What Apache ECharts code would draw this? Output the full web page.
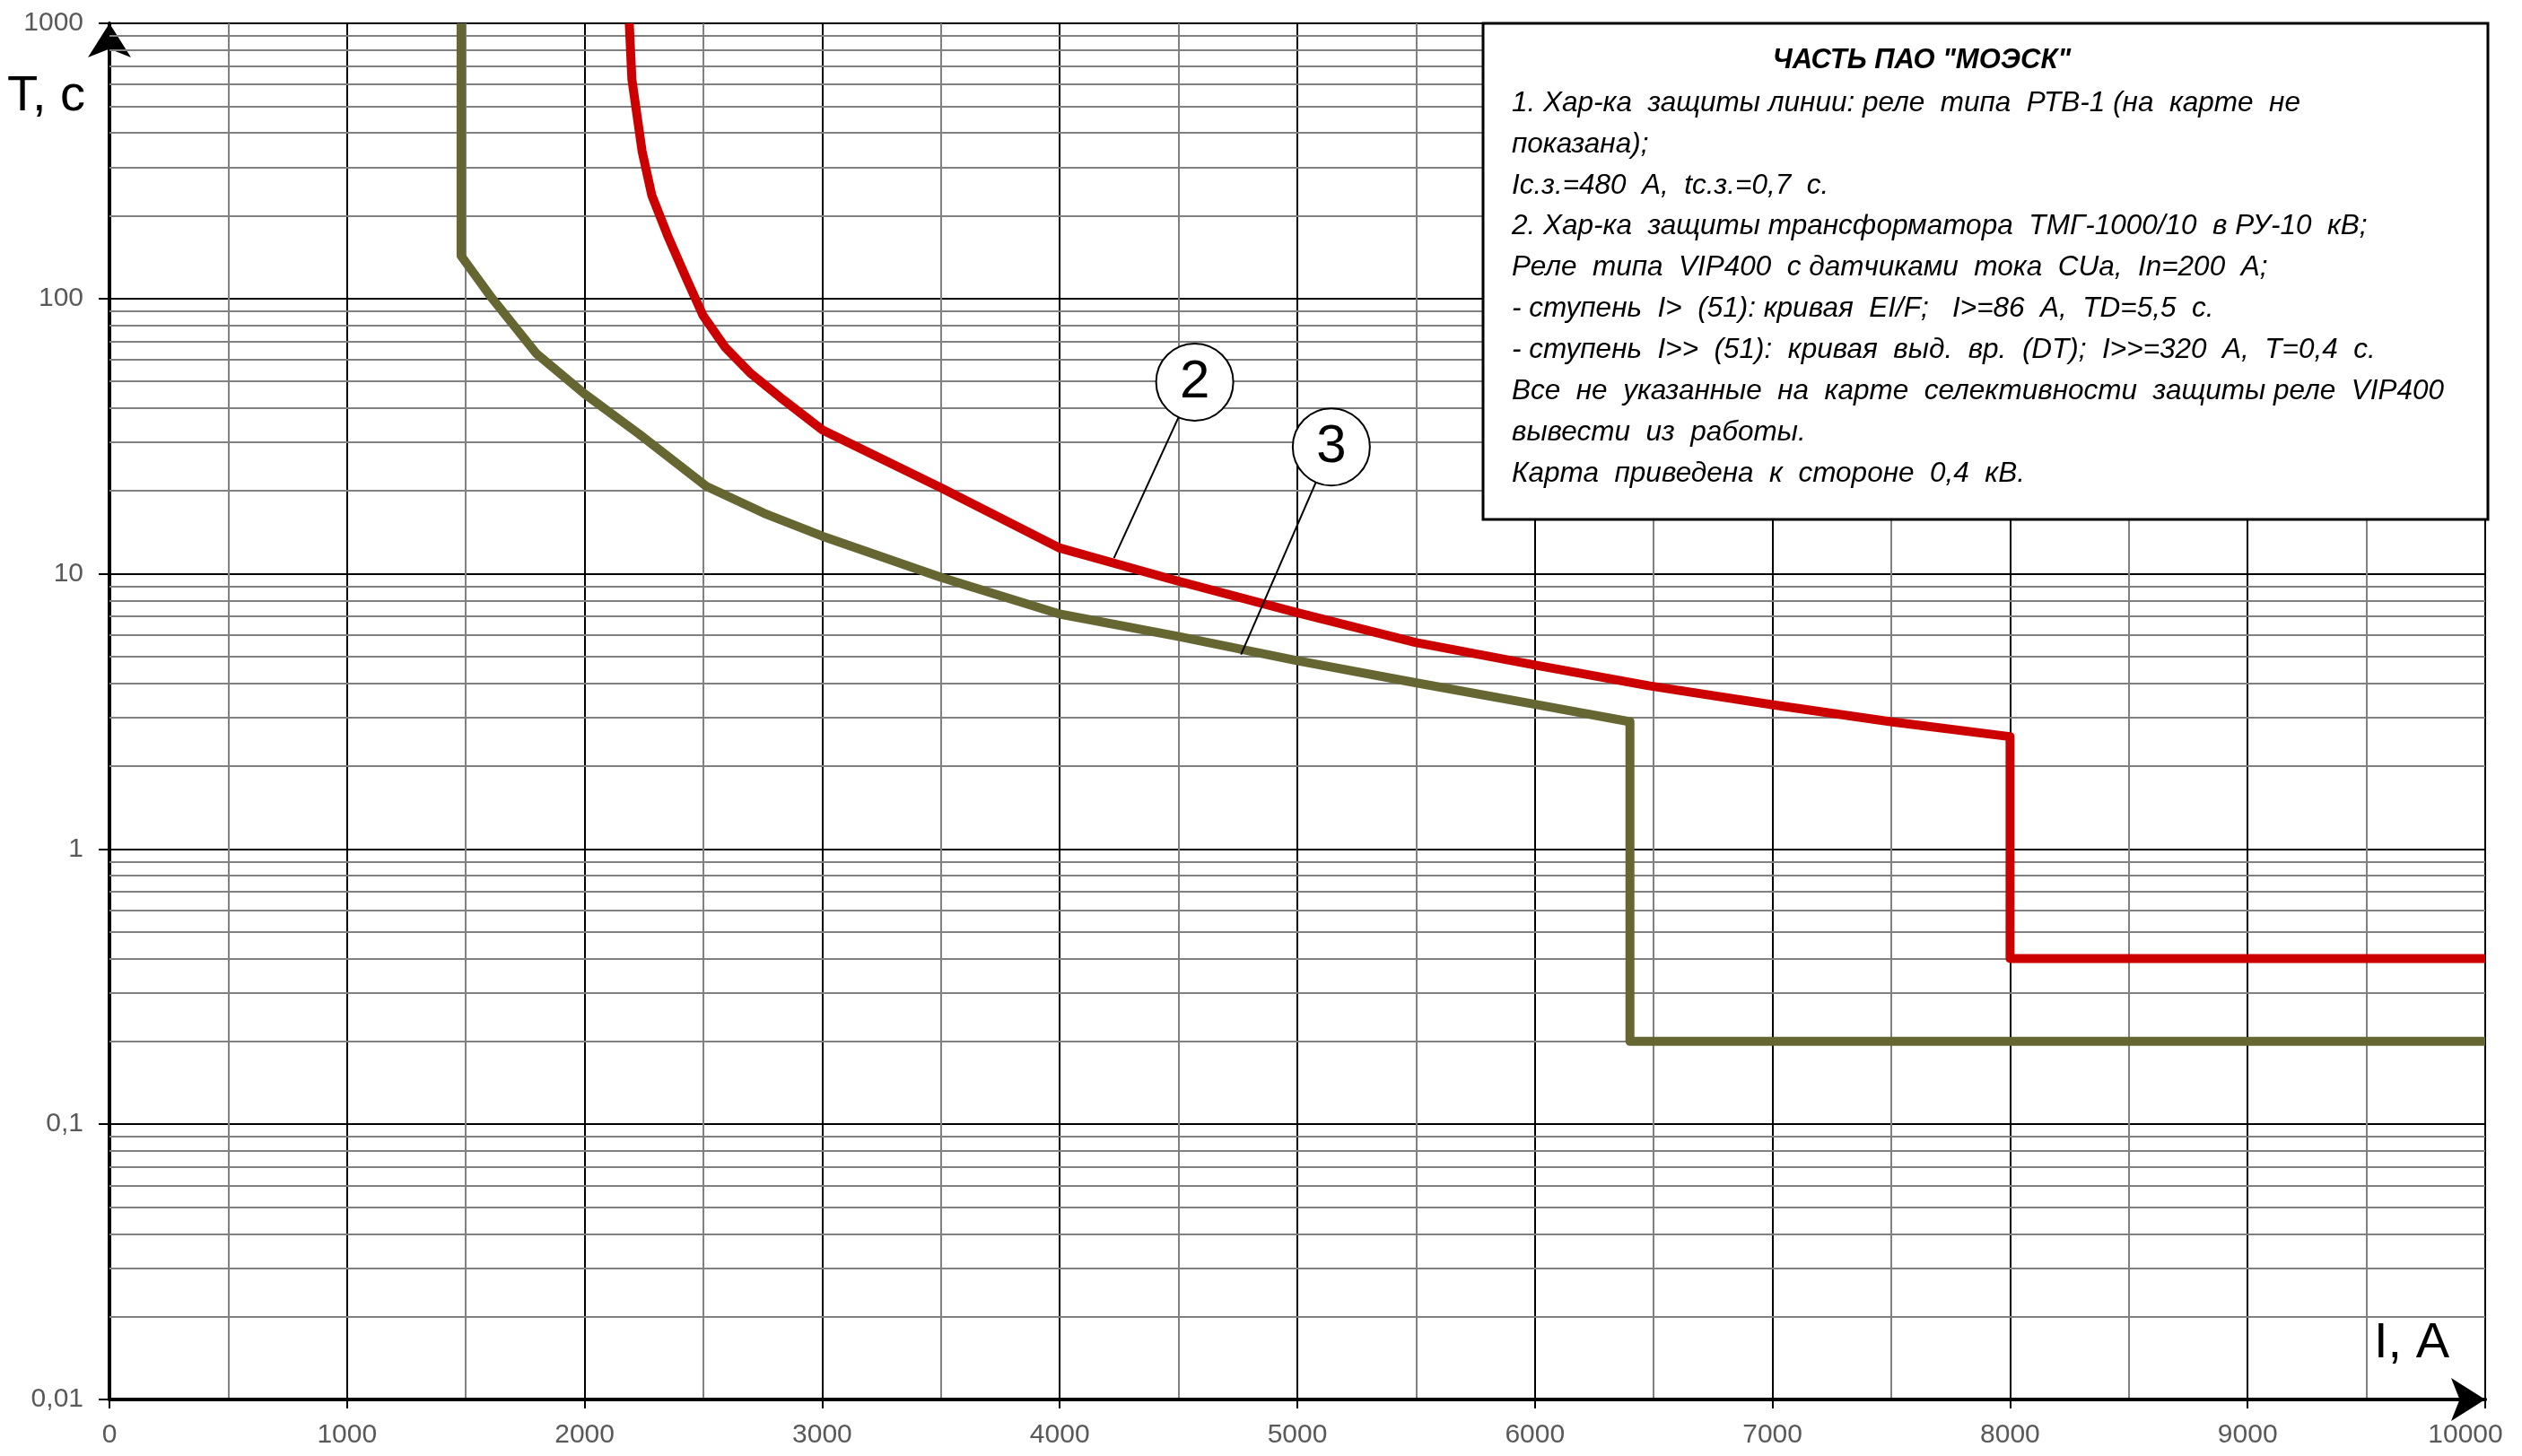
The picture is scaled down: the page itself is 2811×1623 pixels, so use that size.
<!DOCTYPE html>
<html>
<head>
<meta charset="utf-8">
<script src="https://cdn.jsdelivr.net/npm/echarts@6/dist/echarts.min.js"></script>
<style>
html,body{margin:0;padding:0;background:#fff;}
#chart{width:2811px;height:1623px;}
</style>
</head>
<body>
<div id="chart"></div>
<script>
// ---------- data ----------
// curve 2 (red): transformer protection on 10 kV, referred to 0.4 kV
const redI = [2188, 2199, 2242, 2283, 2350, 2431, 2499, 2593, 2701, 2836, 3001, 3502, 4000, 4498, 4998, 5497, 6006, 6479, 7004, 7498, 8000, 8000, 10000];
const redT = [1000, 626, 343, 237, 169, 117, 86.6, 66.3, 53.3, 42.9, 33.3, 20.5, 12.4, 9.41, 7.23, 5.63, 4.65, 3.92, 3.34, 2.90, 2.56, 0.4, 0.4];
// curve 3 (olive)
const greenI = [1480, 1480, 1608, 1797, 1999, 2229, 2512, 2755, 3001, 3502, 4000, 4498, 4998, 5497, 6006, 6400, 6400, 10000];
const greenT = [1000, 143, 100.8, 63.1, 45.1, 32.2, 20.8, 16.6, 13.7, 9.7, 7.14, 5.92, 4.84, 4.02, 3.35, 2.90, 0.2, 0.2];
// callouts
const calloutNames = ['2', '3'];
const calloutCenters = [[4568, 49.7], [5143, 28.9]];
const calloutTargets = [[4228, 11.4], [4763, 5.09]];
// axes
const xMin = 0, xMax = 10000, xStep = 1000;
const yMin = 0.01, yMax = 1000;
const yAxisName = 'T, c';
const xAxisName = 'I, A';
// note box
const noteTitle = 'ЧАСТЬ ПАО "МОЭСК"';
const noteLines = [
  '1. Хар-ка  защиты линии: реле  типа  РТВ-1 (на  карте  не',
  'показана);',
  'Iс.з.=480  А,  tс.з.=0,7  с.',
  '2. Хар-ка  защиты трансформатора  ТМГ-1000/10  в РУ-10  кВ;',
  'Реле  типа  VIP400  с датчиками  тока  CUa,  In=200  А;',
  '- ступень  I>  (51): кривая  EI/F;   I>=86  А,  TD=5,5  с.',
  '- ступень  I>>  (51):  кривая  выд.  вр.  (DT);  I>>=320  А,  T=0,4  с.',
  'Все  не  указанные  на  карте  селективности  защиты реле  VIP400',
  'вывести  из  работы.',
  'Карта  приведена  к  стороне  0,4  кВ.'
];

// minor log grid values (2..9 within each decade)
const yMinor = [];
for (let d = 0.01; d < 999; d *= 10) {
  for (let m = 2; m <= 9; m++) yMinor.push(+(m * d).toPrecision(3));
}

const zip = (a, b) => a.map((v, i) => [v, b[i]]);

const labelFont = "'Liberation Sans', Arial, sans-serif";
const noteFont = "'Liberation Sans', 'DejaVu Sans', sans-serif";

const chart = echarts.init(document.getElementById('chart'), null, {renderer: 'canvas'});

const G = {left: 122, right: 41, top: 26, bottom: 63, outerBoundsMode: 'none', containLabel: false};

const graphics = [];
// axis names
graphics.push({type: 'text', style: {x: 8, y: 108, text: yAxisName, fontSize: 56, fontFamily: labelFont, fill: '#000', align: 'left', verticalAlign: 'middle'}, z: 10});
graphics.push({type: 'text', style: {x: 2646, y: 1498, text: xAxisName, fontSize: 56, fontFamily: labelFont, fill: '#000', align: 'left', verticalAlign: 'middle'}, z: 10});
// note box
graphics.push({type: 'rect', shape: {x: 1653, y: 26, width: 1120, height: 553}, style: {fill: '#fff', stroke: '#000', lineWidth: 3}, z: 20});
graphics.push({type: 'text', style: {x: 2142, y: 67, text: noteTitle, fontSize: 31, fontWeight: 'bold', fontStyle: 'italic', fontFamily: noteFont, fill: '#000', align: 'center', verticalAlign: 'middle'}, z: 21});
noteLines.forEach((t, i) => {
  graphics.push({type: 'text', style: {x: 1685, y: 115 + i * 45.9, text: t, fontSize: 31.5, fontStyle: 'italic', fontFamily: noteFont, fill: '#000', align: 'left', verticalAlign: 'middle'}, z: 21});
});

const option = {
  animation: false,
  backgroundColor: '#fff',
  grid: G,
  xAxis: {
    type: 'value', min: xMin, max: xMax, interval: xStep,
    axisLine: {show: true, onZero: false, symbol: ['none', 'arrow'], symbolSize: [36, 38], lineStyle: {color: '#000', width: 4}},
    axisTick: {show: true, length: 10, lineStyle: {color: '#000', width: 2}},
    axisLabel: {
      color: '#595959', fontSize: 30, fontFamily: labelFont, margin: 25,
      formatter: v => (v === xMax ? '{last|' + v + '}' : String(v)),
      rich: {last: {color: '#595959', fontSize: 30, fontFamily: labelFont, padding: [0, 44, 0, 0]}}
    },
    splitLine: {show: true, lineStyle: {color: '#000', width: 2}},
    minorTick: {show: false, splitNumber: 2},
    minorSplitLine: {show: true, lineStyle: {color: '#808080', width: 2}}
  },
  yAxis: {
    type: 'log', logBase: 10, min: yMin, max: yMax,
    axisLine: {show: true, onZero: false, symbol: ['none', 'arrow'], symbolSize: [36, 38], lineStyle: {color: '#000', width: 4}},
    axisTick: {show: true, length: 12, lineStyle: {color: '#000', width: 2}},
    axisLabel: {
      color: '#595959', fontSize: 30, fontFamily: labelFont, margin: 29,
      formatter: v => (v >= 1 ? String(Math.round(v)) : String(+v.toPrecision(2)).replace('.', ','))
    },
    splitLine: {show: true, lineStyle: {color: '#000', width: 2}}
  },
  graphic: graphics,
  series: [
    {
      type: 'line', data: [], z: 1, silent: true,
      markLine: {
        silent: true, symbol: 'none', animation: false, z: 1,
        label: {show: false},
        lineStyle: {color: '#808080', width: 2, type: 'solid'},
        emphasis: {disabled: true},
        data: yMinor.map(v => ({yAxis: v}))
      }
    },
    {
      name: '3', type: 'line', data: zip(greenI, greenT), showSymbol: false, z: 6,
      lineStyle: {color: '#666633', width: 10, join: 'round'}
    },
    {
      name: '2', type: 'line', data: zip(redI, redT), showSymbol: false, z: 6,
      lineStyle: {color: '#cc0000', width: 10, join: 'round'}
    },
    ...calloutCenters.map((c, i) => ({
      type: 'line', data: [c, calloutTargets[i]], showSymbol: false, z: 7,
      lineStyle: {color: '#000', width: 2}
    })),
    {
      type: 'scatter', z: 8, symbol: 'circle', symbolSize: 86,
      itemStyle: {color: '#fff', borderColor: '#000', borderWidth: 2, opacity: 1},
      label: {show: true, position: 'inside', formatter: '{b}', color: '#000', fontSize: 60, fontFamily: "'Liberation Sans', sans-serif"},
      data: calloutCenters.map((c, i) => ({name: calloutNames[i], value: c}))
    }
  ]
};
chart.setOption(option);
</script>
</body>
</html>
